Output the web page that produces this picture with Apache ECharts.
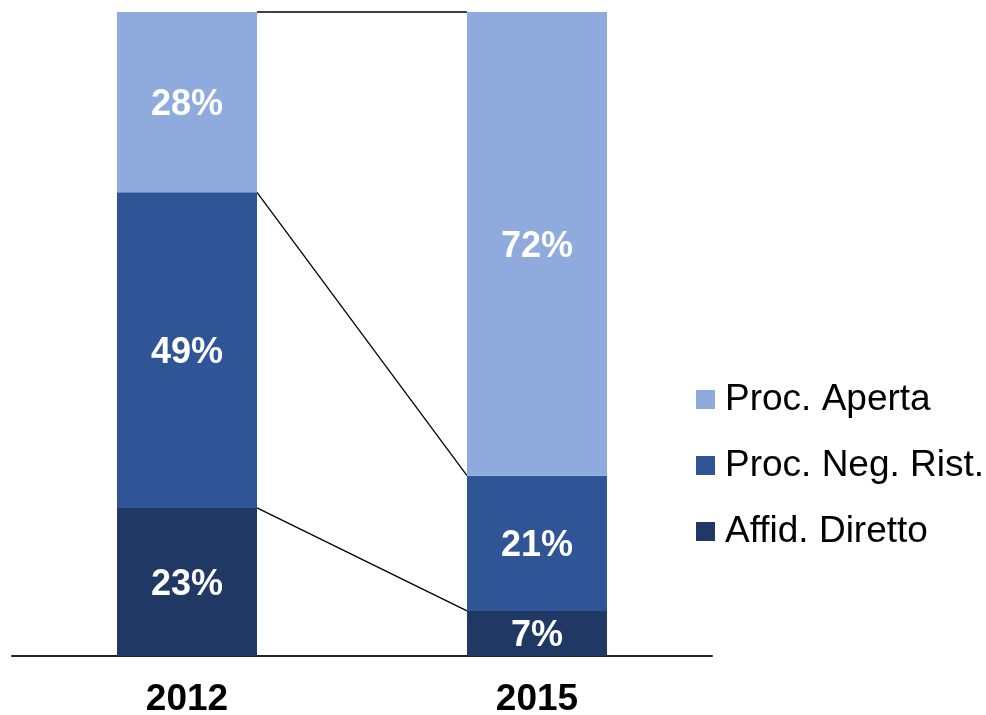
<!DOCTYPE html>
<html>
<head>
<meta charset="utf-8">
<script src="https://cdn.jsdelivr.net/npm/echarts@6/dist/echarts.min.js"></script>
<style>html,body{margin:0;padding:0;background:#fff}#c{width:986px;height:715px}</style>
</head>
<body>
<div id="c"></div>
<script>
var categories = ['2012', '2015'];
var affidDiretto = [23, 7];
var procNegRist = [49, 21];
var procAperta = [28, 72];
var seriesNames = ['Affid. Diretto', 'Proc. Neg. Rist.', 'Proc. Aperta'];
var colors = ['#203864', '#2F5597', '#8FAADC'];

// cumulative boundaries for connector lines
var cum1 = affidDiretto.map(function (v) { return v; });
var cum2 = affidDiretto.map(function (v, i) { return v + procNegRist[i]; });
var cum3 = affidDiretto.map(function (v, i) { return v + procNegRist[i] + procAperta[i]; });
var connectors = [
  [0, cum1[0], cum1[1]],
  [0, cum2[0], cum2[1]],
  [0, cum3[0], cum3[1]]
];

var BAR_RATIO = 0.4;
var chart = echarts.init(document.getElementById('c'));

function barSeries(name, data, color) {
  return {
    name: name,
    type: 'bar',
    stack: 'total',
    data: data,
    barWidth: (BAR_RATIO * 100) + '%',
    itemStyle: { color: color },
    label: {
      show: true,
      position: 'inside',
      offset: [0, 3],
      formatter: '{c}%',
      color: '#fff',
      fontFamily: 'Liberation Sans',
      fontWeight: 'bold',
      fontSize: 36
    },
    z: 3
  };
}

chart.setOption({
  animation: false,
  grid: { left: 12, right: 274, top: 12, bottom: 59, containLabel: false, outerBoundsMode: 'none' },
  legend: {
    orient: 'vertical',
    left: 691,
    top: 376,
    itemWidth: 19,
    itemHeight: 19,
    itemGap: 29,
    icon: 'rect',
    data: ['Proc. Aperta', 'Proc. Neg. Rist.', 'Affid. Diretto'],
    textStyle: { fontFamily: 'Liberation Sans', fontSize: 37, color: '#000', padding: [0, 0, 0, 5] }
  },
  xAxis: {
    type: 'category',
    data: categories,
    axisLine: { show: true, lineStyle: { color: '#222', width: 2 } },
    axisTick: { show: false },
    axisLabel: {
      color: '#000',
      fontFamily: 'Liberation Sans',
      fontWeight: 'bold',
      fontSize: 37,
      margin: 25
    }
  },
  yAxis: {
    type: 'value',
    min: 0,
    max: 100,
    show: false,
    splitLine: { show: false }
  },
  series: [
    barSeries(seriesNames[0], affidDiretto, colors[0]),
    barSeries(seriesNames[1], procNegRist, colors[1]),
    barSeries(seriesNames[2], procAperta, colors[2]),
    {
      type: 'custom',
      name: 'connectors',
      data: connectors,
      z: 1,
      silent: true,
      encode: { x: 0, y: [1, 2] },
      renderItem: function (params, api) {
        var a = api.coord([0, api.value(1)]);
        var b = api.coord([1, api.value(2)]);
        var bw = api.size([1, 0])[0] * BAR_RATIO;
        return {
          type: 'line',
          shape: { x1: a[0] + bw / 2, y1: a[1], x2: b[0] - bw / 2, y2: b[1] },
          style: { stroke: '#000', lineWidth: 1.3 }
        };
      }
    }
  ]
});
</script>
</body>
</html>
